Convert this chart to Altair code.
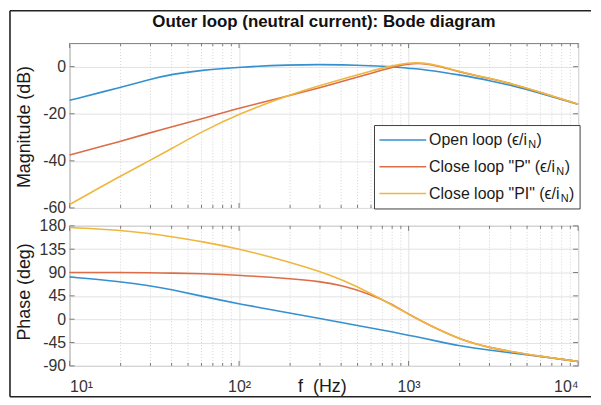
import altair as alt
import pandas as pd

# ---------------- data ----------------
freq = [10, 20, 30, 40, 60, 100, 200, 300, 400, 600, 800, 1000, 1200, 1500, 2000, 2500, 3000, 4000, 6000, 10000]

mag_open = [-14.3, -8.8, -5.3, -3.2, -1.5, -0.2, 0.8, 0.9, 0.8, 0.4, 0.0, -0.7, -1.1, -2.1, -3.5, -4.8, -5.9, -7.9, -11.3, -16.0]
mag_p    = [-37.5, -31.7, -28.0, -25.6, -22.2, -17.6, -12.2, -8.9, -6.4, -2.8, -0.3, 1.2, 1.5, 0.3, -2.3, -3.8, -5.0, -7.2, -10.9, -16.0]
mag_pi   = [-58.5, -46.4, -39.7, -34.8, -27.7, -20.0, -11.8, -8.0, -5.4, -1.8, 0.4, 1.6, 1.7, 0.5, -2.1, -3.7, -4.9, -7.1, -10.8, -16.0]

ph_open = [81.6, 72.6, 64.5, 57.0, 44.5, 29.5, 11.6, 1.3, -6.4, -17.0, -24.5, -31.0, -36.0, -43.0, -51.5, -56.0, -59.5, -65.0, -72.0, -81.5]
ph_p    = [90.0, 90.0, 89.5, 89.0, 87.8, 85.0, 78.4, 72.6, 66.0, 48.0, 29.0, 9.6, -4.0, -20.0, -38.0, -48.0, -54.5, -62.5, -71.5, -81.5]
ph_pi   = [176.8, 172.0, 165.0, 159.0, 150.0, 136.0, 110.0, 92.0, 77.0, 50.0, 27.0, 9.6, -4.0, -20.0, -38.0, -48.0, -54.5, -62.5, -71.5, -81.5]

series_names = ["Open loop (\u03f5/i", "Close loop \"P\" (\u03f5/i", "Close loop \"PI\" (\u03f5/i"]
series_colors = ["#3590cf", "#dc6e47", "#efb73e"]

major_f = [10, 100, 1000, 10000]
minor_f = [20, 30, 40, 50, 60, 70, 80, 90,
           200, 300, 400, 500, 600, 700, 800, 900,
           2000, 3000, 4000, 5000, 6000, 7000, 8000, 9000]
mag_ticks = [-60, -40, -20, 0]
ph_ticks = [-90, -45, 0, 45, 90, 135, 180]

title_text = "Outer loop (neutral current): Bode diagram"

# ---------------- layout constants ----------------
W, H1, H2, GAP = 512, 166, 141, 18
FONT = "Liberation Sans"
BOX = "#7a7a7a"
GRID = "#e2e2e2"
LABEL = "#333333"

xscale = alt.Scale(type="log", domain=[10, 10000], nice=False)
mag_scale = alt.Scale(domain=[-60, 10], nice=False, zero=False)
ph_scale = alt.Scale(domain=[-90, 180], nice=False, zero=False)

sup = {10: "10\u00b9", 100: "10\u00b2", 1000: "10\u00b3", 10000: "10\u2074"}
label_expr_x = ("datum.value == 10 ? '%s' : datum.value == 100 ? '%s' : "
                "datum.value == 1000 ? '%s' : '%s'") % (sup[10], sup[100], sup[1000], sup[10000])

x_top = alt.X("f:Q", scale=xscale,
              axis=alt.Axis(values=major_f, labels=False, ticks=False, domain=False,
                            grid=True, gridColor=GRID, title=None))
x_bot = alt.X("f:Q", scale=xscale,
              axis=alt.Axis(values=major_f, labelExpr=label_expr_x, ticks=False, domain=False,
                            grid=True, gridColor=GRID, labelFont=FONT, labelFontSize=16,
                            labelColor=LABEL, labelBaseline="alphabetic", labelPadding=26,
                            title="f\u00a0 (Hz)", titleFont=FONT, titleFontSize=18,
                            titleFontWeight="normal", titleColor="#1a1a1a",
                            titleBaseline="alphabetic", titleX=254, titleY=26,
                            titleAlign="center"))

def yenc(scale, vals, title, ty):
    return alt.Y("v:Q", scale=scale,
                 axis=alt.Axis(values=vals, labelExpr="'' + datum.value", ticks=False,
                               domain=False, grid=True, gridColor=GRID,
                               labelFont=FONT, labelFontSize=16, labelColor=LABEL,
                               labelPadding=4, labelFlush=False,
                               title=title, titleFont=FONT, titleFontSize=18,
                               titleFontWeight="normal", titleColor="#1a1a1a",
                               titleAngle=270, titleBaseline="alphabetic",
                               titleX=-40, titleY=ty, titleAlign="center"))

y_mag = yenc(mag_scale, mag_ticks, "Magnitude (dB)", 84)
y_ph = yenc(ph_scale, ph_ticks, "Phase (deg)", 66)


def panel(xenc, yenc_, values_list, height, ticks_list):
    layers = []
    # minor dotted grid
    layers.append(alt.Chart(pd.DataFrame({"f": minor_f})).mark_rule(
        color="#d4d4d4", strokeDash=[1, 2], strokeWidth=1).encode(x=xenc))
    # inward x ticks (top and bottom)
    dfmaj = pd.DataFrame({"f": major_f})
    dfmin = pd.DataFrame({"f": minor_f})
    for dfx, ln in ((dfmaj, 5), (dfmin, 3)):
        layers.append(alt.Chart(dfx).mark_rule(color=BOX).encode(
            x=xenc, y=alt.value(0), y2=alt.value(ln)))
        layers.append(alt.Chart(dfx).mark_rule(color=BOX).encode(
            x=xenc, y=alt.value(height), y2=alt.value(height - ln)))
    # inward y ticks (left and right)
    dfy = pd.DataFrame({"v": ticks_list})
    layers.append(alt.Chart(dfy).mark_rule(color=BOX).encode(
        y=yenc_, x=alt.value(0), x2=alt.value(5)))
    layers.append(alt.Chart(dfy).mark_rule(color=BOX).encode(
        y=yenc_, x=alt.value(W), x2=alt.value(W - 5)))
    # curves
    for vals, col in zip(values_list, series_colors):
        df = pd.DataFrame({"f": freq, "v": vals})
        layers.append(alt.Chart(df).mark_line(
            color=col, strokeWidth=1.6, interpolate="basis").encode(x=xenc, y=yenc_))
    return layers


# ---------------- magnitude panel ----------------
top_layers = panel(x_top, y_mag, [mag_open, mag_p, mag_pi], H1, mag_ticks)

# outer frame (top and left)
top_layers.append(alt.Chart().mark_rule(color="#222222", strokeWidth=1.6).encode(
    x=alt.value(-60), x2=alt.value(525), y=alt.value(-32.5)))
top_layers.append(alt.Chart().mark_rule(color="#222222", strokeWidth=1.6).encode(
    x=alt.value(-60), y=alt.value(-32.5), y2=alt.value(356)))

# title
top_layers.append(alt.Chart().mark_text(
    text=title_text, font=FONT, fontSize=17, fontWeight="bold", color="#111111",
    align="center", baseline="alphabetic").encode(x=alt.value(W / 2), y=alt.value(-16)))

# legend box
LX0, LX1, LY0, LY1 = 307, 514, 83, 167
top_layers.append(alt.Chart().mark_rect(fill="white", stroke="#404040", strokeWidth=1).encode(
    x=alt.value(LX0), x2=alt.value(LX1), y=alt.value(LY0), y2=alt.value(LY1)))

CW = {'O': 778, 'p': 556, 'e': 556, 'n': 556, ' ': 278, 'l': 222, 'o': 556, '(': 333,
      'C': 722, 's': 500, '"': 355, 'P': 667, 'I': 278, '/': 278, 'i': 222, '\u03f5': 480,
      'N': 722}

def tw(s, size):
    return sum(CW.get(ch, 556) for ch in s) * size / 1000.0

row_y = [97.5, 124.5, 151.5]
TX = 362
for name, col, ry in zip(series_names, series_colors, row_y):
    top_layers.append(alt.Chart().mark_rule(color=col, strokeWidth=1.6).encode(
        x=alt.value(312), x2=alt.value(359), y=alt.value(ry)))
    top_layers.append(alt.Chart().mark_text(
        text=name, font=FONT, fontSize=16, align="left", baseline="middle",
        color="#1a1a1a").encode(x=alt.value(TX), y=alt.value(ry)))
    nx = TX + tw(name, 16) + 0.5
    top_layers.append(alt.Chart().mark_text(
        text="N", font=FONT, fontSize=11, align="left", baseline="middle",
        color="#1a1a1a").encode(x=alt.value(nx), y=alt.value(ry + 5)))
    top_layers.append(alt.Chart().mark_text(
        text=")", font=FONT, fontSize=16, align="left", baseline="middle",
        color="#1a1a1a").encode(x=alt.value(nx + tw("N", 11) + 0.5), y=alt.value(ry)))

top = alt.layer(*top_layers).properties(width=W, height=H1)

# ---------------- phase panel ----------------
bot_layers = panel(x_bot, y_ph, [ph_open, ph_p, ph_pi], H2, ph_ticks)
bot_layers.append(alt.Chart().mark_rule(color="#222222", strokeWidth=1.6).encode(
    x=alt.value(-60), x2=alt.value(525), y=alt.value(172)))

bottom = alt.layer(*bot_layers).properties(width=W, height=H2)

chart = alt.vconcat(top, bottom, spacing=GAP, bounds="flush").properties(
    padding=0, background="white"
).configure_view(stroke=BOX, strokeWidth=1)

chart.save("out.html", embed_options={"renderer": "svg", "actions": False})
